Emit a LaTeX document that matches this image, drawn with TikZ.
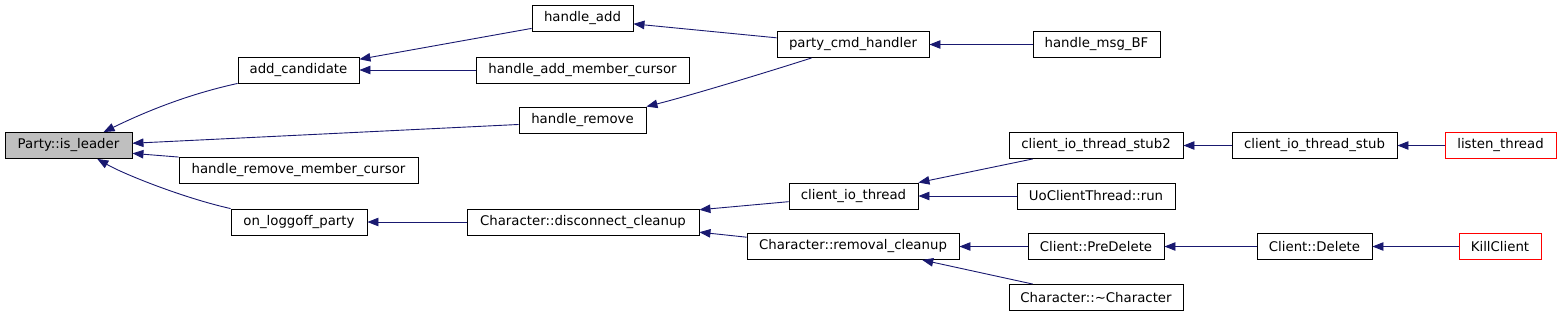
\documentclass[tikz,border=0pt]{standalone}
\usepackage{fontspec}
\setmainfont{DejaVu Sans}
\usepackage{tikz}
\usetikzlibrary{arrows.meta, calc}
\definecolor{edgeblue}{HTML}{191970}
\definecolor{nodegray}{HTML}{BFBFBF}
\definecolor{nodered}{HTML}{FF0000}

\begin{document}
\begin{tikzpicture}[x=1pt, y=-1pt,
    fn/.style={draw=black, line width=0.9pt, fill=white, inner sep=0pt,
      minimum height=26pt, font=\fontsize{13.3}{16}\selectfont},
    fnred/.style={fn, draw=nodered},
    edge/.style={-{Triangle[length=11pt, width=8.5pt]}, edgeblue, line width=0.9pt}]
        \useasboundingbox (0,0) rectangle (1560,316);

        % ── COLUMN 1 ───────────────────────────────
        \node[fn, fill=nodegray, minimum width=127] (leader) at (68.5,145.5)
          {Party::is\_leader};

        % ── COLUMN 2 ───────────────────────────────
        \node[fn, minimum width=121] (addcand) at (298.5,70) {add\_candidate};
        \node[fn, minimum width=239] (hrmc) at (298.5,170.5)
          {handle\_remove\_member\_cursor};
        \node[fn, minimum width=136] (loggoff) at (299,222) {on\_loggoff\_party};

        % ── COLUMN 3 ───────────────────────────────
        \node[fn, minimum width=101] (hadd) at (582.5,18.5) {handle\_add};
        \node[fn, minimum width=213] (hamc) at (582.5,70)
          {handle\_add\_member\_cursor};
        \node[fn, minimum width=127] (hremove) at (582.5,120) {handle\_remove};
        \node[fn, minimum width=232] (dccleanup) at (583,222)
          {Character::disconnect\_cleanup};

        % ── COLUMN 4 ───────────────────────────────
        \node[fn, minimum width=152] (pcmd) at (853,44.5) {party\_cmd\_handler};
        \node[fn, minimum width=129] (ciothread) at (853.5,196) {client\_io\_thread};
        \node[fn, minimum width=212] (rmcleanup) at (853,246.5)
          {Character::removal\_cleanup};

        % ── COLUMN 5 ───────────────────────────────
        \node[fn, minimum width=127] (hmsgbf) at (1096.5,44.5) {handle\_msg\_BF};
        \node[fn, minimum width=174] (stub2) at (1096,145.5)
          {client\_io\_thread\_stub2};
        \node[fn, minimum width=158] (uorun) at (1096,196) {UoClientThread::run};
        \node[fn, minimum width=136] (predelete) at (1096,246.5)
          {Client::PreDelete};
        \node[fn, minimum width=174] (dtor) at (1096,297.5)
          {Character::\textasciitilde Character};

        % ── COLUMNS 6 AND 7 ────────────────────────
        \node[fn, minimum width=165] (stub) at (1314.5,145.5)
          {client\_io\_thread\_stub};
        \node[fn, minimum width=115] (cdelete) at (1314.5,246.5) {Client::Delete};
        \node[fnred, minimum width=111] (listen) at (1500.5,145.5) {listen\_thread};
        \node[fnred, minimum width=82] (kill) at (1500,246.5) {KillClient};

        % ── STRAIGHT CALLS ─────────────────────────
        \foreach \a/\b in {hamc/addcand, hmsgbf/pcmd, dccleanup/loggoff,
                           uorun/ciothread, predelete/rmcleanup, stub/stub2,
                           listen/stub, cdelete/predelete, kill/cdelete} {
          \draw[edge] (\a.west) -- (\b.east);
        }

        % ── SLANTED CALLS ──────────────────────────
        \draw[edge] (hremove.184) -- (leader.2);
        \draw[edge] (hrmc.north west) -- (leader.-7);
        \draw[edge] (hadd.191) -- (addcand.10);
        \draw[edge] (pcmd.175) -- (hadd.-6);
        \draw[edge] (ciothread.185) -- (dccleanup.6);
        \draw[edge] (rmcleanup.175) -- (dccleanup.-5);
        \draw[edge] (stub2.192) -- (ciothread.north east);
        \draw[edge] (dtor.168) -- (rmcleanup.-11);

        % ── CURVED CALLS ───────────────────────────
        \draw[edge] (addcand.south west)
          .. controls +(-55,12) and +(35,-17) .. (leader.21);
        \draw[edge] (loggoff.north west)
          .. controls +(-45,-10) and +(28,16) .. (leader.-25);
        \draw[edge] (pcmd.198)
          .. controls +(-50,16) and +(40,-10) .. (hremove.north east);
      \end{tikzpicture}
\end{document}
